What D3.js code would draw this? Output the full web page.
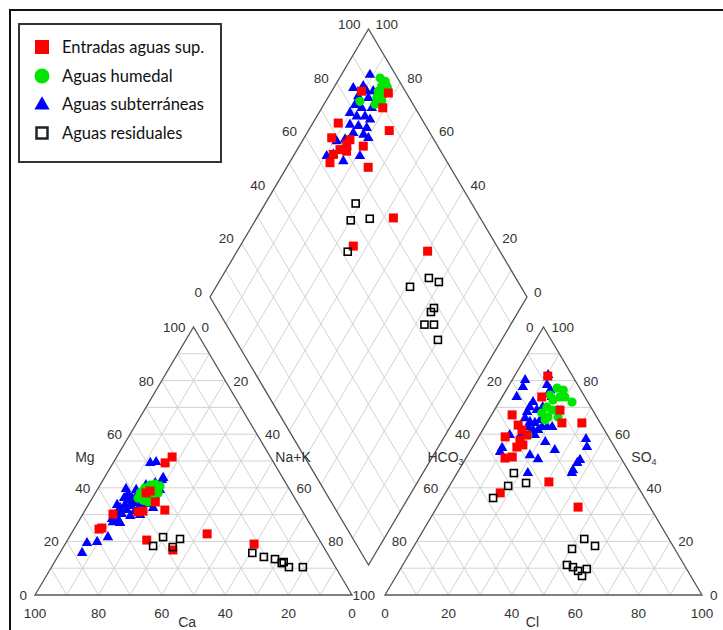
<!DOCTYPE html>
<html>
<head>
<meta charset="utf-8">
<script src="https://cdn.jsdelivr.net/npm/d3@7"></script>
<style>
  body { margin: 0; background: #fff; }
  svg { display: block; }
</style>
</head>
<body>
<div id="chart"></div>
<script>
// Piper diagram: cation triangle [Ca, Mg] (Na+K = rest), anion triangle [Cl, SO4] (HCO3 = rest),
// diamond [Ca+Mg, SO4+Cl]
const ticks = [0, 20, 40, 60, 80, 100];
const gridSteps = [10, 20, 30, 40, 50, 60, 70, 80, 90];

const seriesNames = ['Entradas aguas sup.', 'Aguas humedal', 'Aguas subterráneas', 'Aguas residuales'];

const cationSup = [[31.0,51.5],[34.3,49.3],[43.2,31.7],[45.9,38.1],[50.3,31.3],[52.0,31.0],[60.3,30.2],[67.5,24.6],
  [66.4,25.0],[54.5,20.5],[48.1,16.8],[34.3,22.8],[21.4,19.0],[44.7,34.7],[44.3,38.8]];
const cationSub = [[39.0,49.3],[37.0,49.6],[37.7,43.7],[41.2,41.8],[41.0,39.2],[77.3,15.7],[73.9,19.4],[70.5,19.8],
  [66.2,21.6],[61.8,27.2],[59.8,28.0],[51.5,39.6],[38.5,42.9],[61.5,28.4],[59.8,29.9],[58.3,31.0],[56.9,32.5],
  [57.5,30.2],[54.8,33.6],[55.2,31.7],[53.0,35.4],[53.4,33.2],[51.3,36.2],[51.7,34.3],[52.9,31.3],[49.2,37.3],
  [49.8,35.4],[50.3,33.2],[47.1,38.1],[48.0,35.8],[45.7,39.2],[47.7,34.0],[45.7,36.6],[43.8,39.9],[44.2,37.7],
  [46.5,32.5],[43.7,36.9],[57.3,33.6],[53.8,36.2],[55.2,29.5],[59.7,26.9],[51.9,29.9],[44.5,41.0],[48.5,39.2],[51.8,37.7]];
const cationHum = [[47.8,38.1],[45.4,39.9],[45.8,37.3],[43.2,41.0],[43.2,39.2],[41.4,41.4],[41.6,39.9],[48.2,35.4],
  [47.0,34.7],[44.8,36.6],[42.1,38.1],[49.4,36.2],[45.8,38.4],[40.2,40.7]];
const cationRes = [[53.6,18.3],[48.8,21.6],[47.6,17.9],[43.8,20.9],[23.6,15.7],[20.7,14.2],[17.6,13.4],[16.2,11.9],
  [15.4,12.3],[14.7,10.4],[10.3,10.4]];

const anionSup = [[10.5,81.7],[12.5,73.9],[6.5,67.2],[23.7,64.2],[30.0,64.2],[8.4,59.0],[12.4,61.6],[13.7,57.8],
  [15.5,56.0],[14.0,55.2],[12.3,51.1],[14.4,51.5],[30.6,42.2],[17.3,38.1],[20.7,69.0],[44.5,32.8],[14.9,59.7],[10.3,63.4]];
const anionSub = [[10.4,82.1],[4.1,80.2],[4.7,77.6],[4.6,73.9],[11.9,78.4],[13.9,76.5],[15.7,73.9],[10.7,72.0],
  [10.6,70.1],[10.7,68.3],[13.4,69.0],[14.7,70.1],[11.2,66.0],[13.4,64.6],[15.2,64.2],[16.3,65.3],[13.8,62.7],
  [15.9,61.6],[17.5,61.6],[15.5,60.4],[17.4,59.7],[18.2,62.7],[19.8,62.7],[9.5,59.7],[9.5,54.9],[9.6,53.4],
  [22.0,57.1],[26.5,54.1],[19.6,52.2],[22.9,50.7],[22.3,45.5],[34.3,58.2],[36.1,55.2],[36.3,50.4],[36.0,49.3],
  [36.0,46.6],[36.2,45.5],[13.0,60.4],[21.4,62.7]];
const anionHum = [[15.7,77.2],[18.0,76.5],[18.2,73.9],[23.0,72.0],[16.6,72.8],[16.0,70.1],[18.2,69.0],[20.1,69.0],
  [15.5,67.9],[21.4,66.4],[18.2,66.4],[19.8,73.9],[15.2,59.7],[14.8,74.6],[17.9,65.3]];
const anionRes = [[17.9,45.5],[23.6,41.8],[18.5,40.7],[16.0,36.2],[52.4,20.9],[57.1,18.3],[50.4,17.2],[51.8,11.2],
  [54.1,10.4],[56.4,9.0],[58.6,7.1],[58.8,9.7]];

const diamondSup = [[90.6,86.2],[81.8,94.3],[80.8,89.8],[74.5,87.6],[92.0,72.9],[91.3,68.1],[85.2,73.5],[85.4,71.7],
  [86.5,68.5],[79.8,76.5],[87.7,65.5],[87.2,62.9],[74.3,74.1],[84.1,70.3],[56.9,72.6],[64.3,54.7],[39.9,77.2]];
const diamondSub = [[91.0,91.9],[93.8,84.2],[91.0,87.7],[89.0,87.8],[86.9,89.9],[90.7,84.2],[87.2,87.1],[83.9,89.1],
  [90.1,81.6],[87.4,83.1],[84.2,86.3],[90.2,78.5],[87.4,80.0],[84.8,82.6],[82.6,83.6],[88.0,76.3],[85.1,78.7],
  [82.1,81.0],[85.4,75.8],[81.9,78.7],[79.7,79.6],[89.1,69.0],[86.8,72.0],[85.0,71.2],[89.5,63.1],[87.7,65.5],
  [83.3,67.4],[79.0,73.6],[84.8,92.1]];
const diamondHum = [[87.2,94.5],[85.0,95.5],[85.2,93.5],[83.1,95.0],[85.3,91.5],[83.1,92.4],[84.6,89.8],[82.4,90.7],
  [83.9,88.0],[89.2,83.8],[83.6,95.1]];
const diamondRes = [[71.5,63.4],[69.9,58.7],[64.2,65.0],[65.0,51.9],[34.5,72.6],[30.6,75.0],[38.8,65.0],[27.3,68.6],
  [27.5,66.9],[27.2,62.5],[24.2,65.5],[20.1,63.9]];

const width = 723, height = 630;
const side = 317, triH = 268;
const cationOrigin = [35, 595];
const anionOrigin = [385, 595];
const diamondBottom = [368.5, 565];

const u = d3.scaleLinear().domain([0, 100]).range([0, side]);
const v = d3.scaleLinear().domain([0, 100]).range([0, triH]);

function triPoint(o, right, top) {
    return [o[0] + u(right + top / 2), o[1] - v(top)];
}
const cationXY = d => triPoint(cationOrigin, 100 - d[0] - d[1], d[1]);
const anionXY = d => triPoint(anionOrigin, d[0], d[1]);
const diamondXY = d => [diamondBottom[0] + u((d[1] - d[0]) / 2), diamondBottom[1] - v(d[0] + d[1])];

const svg = d3.select('#chart')
    .append('svg')
    .attr('width', width)
    .attr('height', height);

const gridColor = '#d2d2d2';
const edgeColor = '#555';
const tickFont = '"Liberation Sans", Arial, sans-serif';

// frame
svg.append('path')
    .attr('d', `M10,${height} L10,10 L${width},10`)
    .attr('fill', 'none')
    .attr('stroke', '#111')
    .attr('stroke-width', 2);

const line = d3.line();

function drawGrid(g, segs) {
    g.selectAll('line.grid')
        .data(segs)
        .enter().append('line')
        .attr('class', 'grid')
        .attr('x1', d => d[0][0]).attr('y1', d => d[0][1])
        .attr('x2', d => d[1][0]).attr('y2', d => d[1][1])
        .attr('stroke', gridColor)
        .attr('stroke-width', 1);
}

function drawTriangle(o) {
    const g = svg.append('g');
    const segs = [];
    gridSteps.forEach(k => {
        segs.push([triPoint(o, 0, k), triPoint(o, 100 - k, k)]);
        segs.push([triPoint(o, k, 0), triPoint(o, k, 100 - k)]);
        segs.push([triPoint(o, 100 - k, 0), triPoint(o, 0, 100 - k)]);
    });
    drawGrid(g, segs);
    g.append('path')
        .attr('d', line([triPoint(o, 0, 0), triPoint(o, 100, 0), triPoint(o, 0, 100)]) + 'Z')
        .attr('fill', 'none')
        .attr('stroke', edgeColor)
        .attr('stroke-width', 1.3);
    return g;
}

function drawDiamond() {
    const g = svg.append('g');
    const segs = [];
    gridSteps.forEach(k => {
        segs.push([diamondXY([k, 0]), diamondXY([k, 100])]);
        segs.push([diamondXY([0, k]), diamondXY([100, k])]);
    });
    drawGrid(g, segs);
    g.append('path')
        .attr('d', line([diamondXY([0, 0]), diamondXY([100, 0]), diamondXY([100, 100]), diamondXY([0, 100])]) + 'Z')
        .attr('fill', 'none')
        .attr('stroke', edgeColor)
        .attr('stroke-width', 1.3);
    return g;
}

function tickLabels(items, anchor, dx, dy) {
    svg.append('g')
        .selectAll('text')
        .data(items)
        .enter().append('text')
        .attr('x', d => d.p[0] + dx)
        .attr('y', d => d.p[1] + dy)
        .attr('text-anchor', anchor)
        .attr('font-family', tickFont)
        .attr('font-size', 13.5)
        .attr('fill', '#333')
        .text(d => d.t);
}

drawTriangle(cationOrigin);
drawTriangle(anionOrigin);
drawDiamond();

// cation ticks (the shared "100" between the two triangles is drawn once, by the anion side)
tickLabels(ticks.map(t => ({ p: triPoint(cationOrigin, 0, t), t: t })), 'end', -8, 5);
tickLabels(ticks.filter(t => t > 0).map(t => ({ p: triPoint(cationOrigin, 100 - t, t), t: 100 - t })), 'start', 8, 5);
tickLabels(ticks.map(t => ({ p: triPoint(cationOrigin, t, 0), t: 100 - t })), 'middle', 0, 23);
// anion ticks
tickLabels(ticks.map(t => ({ p: triPoint(anionOrigin, 0, t), t: 100 - t })), 'end', -10, 5);
tickLabels(ticks.map(t => ({ p: triPoint(anionOrigin, 100 - t, t), t: t })), 'start', 8, 5);
tickLabels(ticks.map(t => ({ p: triPoint(anionOrigin, t, 0), t: t })), 'middle', 0, 23);
// diamond ticks
tickLabels(ticks.map(t => ({ p: diamondXY([100, t]), t: t })), 'end', -8, 0);
tickLabels(ticks.map(t => ({ p: diamondXY([t, 100]), t: t })), 'start', 7, 0);

// axis titles
function axisTitle(x, y, anchor, parts) {
    const t = svg.append('text')
        .attr('x', x).attr('y', y)
        .attr('text-anchor', anchor)
        .attr('font-family', tickFont)
        .attr('font-size', 14)
        .attr('fill', '#333');
    parts.forEach(p => {
        const s = t.append('tspan').text(p[0]);
        if (p[1]) s.attr('font-size', 9).attr('dy', 3);
    });
}
const mgPos = triPoint(cationOrigin, 0, 51.5);
axisTitle(mgPos[0] - 22, mgPos[1] + 5, 'end', [['Mg']]);
const naPos = triPoint(cationOrigin, 48.5, 51.5);
axisTitle(naPos[0] + 5, naPos[1] + 5, 'start', [['Na+K']]);
axisTitle(cationOrigin[0] + u(48), cationOrigin[1] + 32, 'middle', [['Ca']]);
const hcPos = triPoint(anionOrigin, 0, 51.5);
axisTitle(hcPos[0] - 3, hcPos[1] + 5, 'end', [['HCO'], ['3', true]]);
const soPos = triPoint(anionOrigin, 48.5, 51.5);
axisTitle(soPos[0] + 11, soPos[1] + 5, 'start', [['SO'], ['4', true]]);
axisTitle(anionOrigin[0] + u(46.5), anionOrigin[1] + 32, 'middle', [['Cl']]);

// markers
const colors = { sup: '#ff0000', hum: '#00e600', sub: '#0000ff', res: '#000' };
const triSym = d3.symbol().type(d3.symbolTriangle);

function drawSeries(data, xy, kind) {
    const g = svg.append('g');
    const pts = data.map(xy);
    if (kind === 'sup') {
        g.selectAll('rect').data(pts).enter().append('rect')
            .attr('x', d => d[0] - 4.5).attr('y', d => d[1] - 4.5)
            .attr('width', 9).attr('height', 9)
            .attr('fill', colors.sup);
    } else if (kind === 'res') {
        g.selectAll('rect').data(pts).enter().append('rect')
            .attr('x', d => d[0] - 3.5).attr('y', d => d[1] - 3.5)
            .attr('width', 7).attr('height', 7)
            .attr('fill', 'none')
            .attr('stroke', colors.res).attr('stroke-width', 1.6);
    } else if (kind === 'hum') {
        g.selectAll('circle').data(pts).enter().append('circle')
            .attr('cx', d => d[0]).attr('cy', d => d[1]).attr('r', 4.6)
            .attr('fill', colors.hum);
    } else {
        g.selectAll('path').data(pts).enter().append('path')
            .attr('d', triSym.size(48)())
            .attr('transform', d => `translate(${d[0]},${d[1]})`)
            .attr('fill', colors.sub);
    }
}

[[cationSub, cationXY], [anionSub, anionXY], [diamondSub, diamondXY]].forEach(s => drawSeries(s[0], s[1], 'sub'));
[[cationHum, cationXY], [anionHum, anionXY], [diamondHum, diamondXY]].forEach(s => drawSeries(s[0], s[1], 'hum'));
[[cationSup, cationXY], [anionSup, anionXY], [diamondSup, diamondXY]].forEach(s => drawSeries(s[0], s[1], 'sup'));
[[cationRes, cationXY], [anionRes, anionXY], [diamondRes, diamondXY]].forEach(s => drawSeries(s[0], s[1], 'res'));

// legend
const legend = svg.append('g');
legend.append('rect')
    .attr('x', 19).attr('y', 24)
    .attr('width', 202).attr('height', 138)
    .attr('fill', '#fff')
    .attr('stroke', '#333')
    .attr('stroke-width', 2);

const legendY = [47, 76, 104, 133];
const legendKinds = ['sup', 'hum', 'sub', 'res'];
legendKinds.forEach((k, i) => {
    const y = legendY[i];
    if (k === 'sup') {
        legend.append('rect').attr('x', 35).attr('y', y - 7).attr('width', 14).attr('height', 14).attr('fill', colors.sup);
    } else if (k === 'hum') {
        legend.append('circle').attr('cx', 42).attr('cy', y).attr('r', 7.5).attr('fill', colors.hum);
    } else if (k === 'sub') {
        legend.append('path').attr('d', triSym.size(100)()).attr('transform', `translate(42,${y + 1})`).attr('fill', colors.sub);
    } else {
        legend.append('rect').attr('x', 36.5).attr('y', y - 5.5).attr('width', 11).attr('height', 11)
            .attr('fill', 'none').attr('stroke', '#222').attr('stroke-width', 2.5);
    }
    legend.append('text')
        .attr('x', 62).attr('y', y + 6)
        .attr('font-family', 'Lato, "Open Sans", sans-serif')
        .attr('font-size', 16.5)
        .attr('fill', '#111')
        .text(seriesNames[i]);
});
</script>
</body>
</html>
